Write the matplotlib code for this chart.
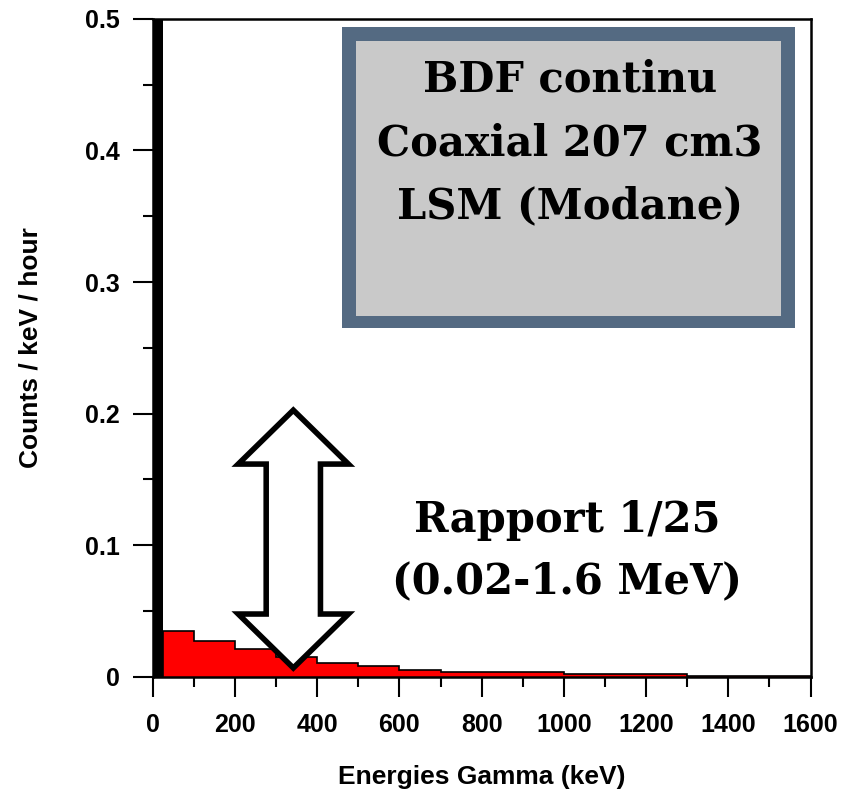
import matplotlib
matplotlib.use("Agg")
import matplotlib.pyplot as plt
import matplotlib.patches as mpatches
from matplotlib.ticker import MultipleLocator

# spectrum (counts / keV / hour), step histogram
bin_edges = [25, 100, 200, 300, 400, 500, 600, 700, 1000, 1300, 1600]
counts = [0.0344, 0.0268, 0.021, 0.0152, 0.0101, 0.0078, 0.0048, 0.0033, 0.0023, 0.0008]
# low-energy peak, runs off the top of the plot
peak_edges = [0, 25]
peak_height = 1.0

y_ticks = [0, 0.1, 0.2, 0.3, 0.4, 0.5]
y_ticklabels = ["0", "0.1", "0.2", "0.3", "0.4", "0.5"]

box_lines = ["BDF continu", "Coaxial 207 cm3", "LSM (Modane)"]
ratio_lines = ["Rapport 1/25", "(0.02-1.6 MeV)"]

plt.rcParams["font.family"] = ["Liberation Sans", "DejaVu Sans"]
plt.rcParams["font.weight"] = "bold"

fig = plt.figure(figsize=(8.56, 7.9), dpi=100)
ax = fig.add_axes([0.1784, 0.1435, 0.7685, 0.8325])

ax.bar(peak_edges[0], peak_height, width=peak_edges[1] - peak_edges[0],
       align="edge", color="black", zorder=2)
ax.stairs(counts, bin_edges, fill=True, color="#ff0000", zorder=2)
ax.stairs(counts, bin_edges, color="black", linewidth=1.2, zorder=3)

ax.set_xlim(0, 1600)
ax.set_ylim(0, 0.5)
ax.xaxis.set_major_locator(MultipleLocator(200))
ax.xaxis.set_minor_locator(MultipleLocator(100))
ax.set_yticks(y_ticks)
ax.set_yticklabels(y_ticklabels)
ax.yaxis.set_minor_locator(MultipleLocator(0.05))
ax.tick_params(which="major", direction="out", length=14.4, width=1.5, labelsize=18)
ax.tick_params(axis="x", which="major", pad=12)
ax.tick_params(axis="y", which="major", pad=9)
ax.tick_params(which="minor", direction="out", length=7.2, width=1.5)
for sp in ax.spines.values():
    sp.set_linewidth(1.8)

ax.set_xlabel("Energies Gamma (keV)", fontsize=19, fontweight="bold")
ax.set_ylabel("Counts / keV / hour", fontsize=19, fontweight="bold")
ax.xaxis.set_label_coords(0.5, -0.135)
ax.yaxis.set_label_coords(-0.167, 0.5)

# hollow double arrow
ax_x, y_top, y_bot = 342, 0.2026, 0.0066
head_hw, shaft_hw, head_len = 134, 66, 0.041
verts = [
    (ax_x, y_top),
    (ax_x + head_hw, y_top - head_len),
    (ax_x + shaft_hw, y_top - head_len),
    (ax_x + shaft_hw, y_bot + head_len),
    (ax_x + head_hw, y_bot + head_len),
    (ax_x, y_bot),
    (ax_x - head_hw, y_bot + head_len),
    (ax_x - shaft_hw, y_bot + head_len),
    (ax_x - shaft_hw, y_top - head_len),
    (ax_x - head_hw, y_top - head_len),
]
ax.add_patch(mpatches.Polygon(verts, closed=True, facecolor="white",
                              edgecolor="black", linewidth=4, zorder=5,
                              joinstyle="miter"))

# info box (figure pixel coords)
fig.patches.append(mpatches.Rectangle((342 / 856, 1 - 328 / 790), 453 / 856, 301 / 790,
                                      transform=fig.transFigure, facecolor="#546a82",
                                      edgecolor="none", zorder=6))
fig.patches.append(mpatches.Rectangle((356 / 856, 1 - 316 / 790), 425 / 856, 275 / 790,
                                      transform=fig.transFigure, facecolor="#c9c9c9",
                                      edgecolor="none", zorder=7))
for i, line in enumerate(box_lines):
    fig.text(570 / 856, 1 - (80 + 63 * i) / 790, line, ha="center", va="center",
             fontfamily="DejaVu Serif", fontweight="bold", fontsize=30, zorder=8)

for i, line in enumerate(ratio_lines):
    fig.text(567 / 856, 1 - (520 + 62 * i) / 790, line, ha="center", va="center",
             fontfamily="DejaVu Serif", fontweight="bold", fontsize=30, zorder=8)

fig.savefig("out.png", dpi=100)
